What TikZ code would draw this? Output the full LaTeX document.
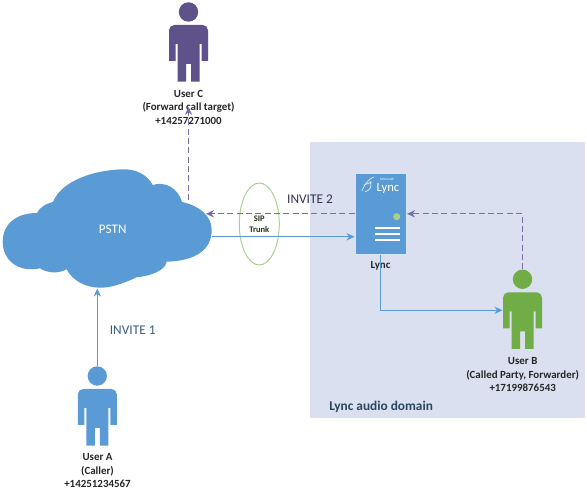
\documentclass[tikz,border=0pt]{standalone}
\usepackage{fontspec}
\setmainfont{Carlito}
\usepackage{xcolor}
\usetikzlibrary{arrows.meta}
\definecolor{lyncblue}{HTML}{5B9BD5}
\definecolor{domainblue}{HTML}{DAE0EF}
\definecolor{purpleC}{HTML}{5F5189}
\definecolor{dashpurple}{HTML}{7A6DA3}
\definecolor{greenB}{HTML}{70AD47}
\definecolor{greenL}{HTML}{A9D18E}
\tikzset{
  solidarrow/.style={line width=0.75pt, lyncblue, -{Stealth[length=6pt,width=5.5pt]}},
  dasharrow/.style={line width=1pt, dashpurple, dash pattern=on 4.5pt off 2.5pt, -{Stealth[length=6pt,width=5.5pt]}},
  userlabel/.style={font=\bfseries\fontsize{8.2}{10.1}\selectfont, align=center, text=black!85, inner sep=0pt},
  person/.pic={
    \fill (0,-13) circle (9.7);
    \coordinate (-head) at (0,-23);
    \coordinate (-west) at (-20,18);
    \fill (-19.5,36) [rounded corners=4pt] -- (-19.5,0) -- (19.5,0) [sharp corners] -- (19.5,36) -- (13,36) -- (13,19) -- (11,19) -- (11,56.7) -- (2.5,56.7) -- (2.5,39) -- (-2.5,39) -- (-2.5,56.7) -- (-11,56.7) -- (-11,19) -- (-13,19) -- (-13,36) -- cycle;
  }
}
\begin{document}
\begin{tikzpicture}[x=0.75pt, y=-0.75pt]
\useasboundingbox (0,0) rectangle (587,498);
% audio domain
\fill[domainblue] (310,142) rectangle (585,417.7);
\node[font=\bfseries\fontsize{10}{12}\selectfont, text=lyncblue!45!black, anchor=west, inner sep=0pt] (domainlabel) at (329,406.7) {Lync audio domain};
% cloud
\fill[lyncblue] (2.7,241.7) .. controls (2.7,225) and (15,213) .. (37,213)
  .. controls (41,206) and (46,204) .. (53,202)
  .. controls (62,180) and (95,170) .. (123,169.3)
  .. controls (135,169) and (147,174) .. (152.7,185)
  .. controls (165,181) and (178,188) .. (182,202)
  .. controls (200,206) and (211.7,216) .. (211.7,230)
  .. controls (211.7,250) and (195,261) .. (166.7,261.7)
  .. controls (165,271) and (150,276) .. (136.7,277.3)
  .. controls (120,285) and (110,287.7) .. (100,287.7)
  .. controls (85,287.7) and (72,280) .. (66.7,269.3)
  .. controls (58,274) and (47,273) .. (40,268.3)
  .. controls (18,273) and (2.7,260) .. (2.7,241.7) -- cycle;
\node[font=\fontsize{9.8}{12}\selectfont, text=white, inner sep=0pt] (pstn) at (112.7,229.3) {PSTN};
\coordinate (pstnS) at (97.3,288.5);
\coordinate (pstnE) at (211.7,236.8);
\coordinate (pstnN) at (188.5,200);
\coordinate (pstnNE) at (206,213.8);
% users
\pic[fill=lyncblue] (userA) at (97.3,389) {person};
\pic[fill=purpleC] (userC) at (188.5,25) {person};
\pic[fill=greenB] (userB) at (522.5,292.3) {person};
\node[userlabel] (userAlabel) at (97.5,470.7) {User A\\(Caller)\\+14251234567};
\node[userlabel] (userClabel) at (188.5,107) {User C\\(Forward call target)\\+14257271000};
\node[userlabel] (userBlabel) at (522.7,374.7) {User B\\(Called Party, Forwarder)\\+17199876543};
% lync server
\node[draw=white!75!lyncblue, fill=lyncblue, line width=0.6pt, minimum width=38.8pt, minimum height=60.7pt, inner sep=0pt] (lync) at (380.8,213.8) {};
\node[font=\fontsize{9.5}{10}\selectfont, text=white, inner sep=0pt] (lynclogo) at (388,188) {Lync};
\node[font=\fontsize{2.6}{3}\selectfont, text=white, inner sep=0pt] (lyncms) at (387,179) {Microsoft};
\draw[white!80!lyncblue, line width=0.5pt] (362,191) .. controls (365,183) and (370,178) .. (374,177) (364,185) -- (372,182) (365,192) .. controls (371,190) and (372,186) .. (370,181);
\fill[greenL] (396.7,216.7) circle (3.5);
\foreach \y in {227.7,234,240} \draw[white, line width=1.5pt] (374.5,\y) -- (400,\y);
\node[userlabel] (lynclabel) at (380.5,265.5) {Lync};
% trunk
\draw[greenL, line width=0.75pt] (259.3,224) ellipse (20 and 41);
\node[font=\bfseries\fontsize{6.4}{8.6}\selectfont, align=center, text=black!70!greenB, inner sep=0pt] (trunk) at (259.3,224) {SIP\\Trunk};
% connectors
\draw[solidarrow] (userA-head) -- (pstnS);
\draw[solidarrow] (pstnE) -- (pstnE -| lync.west);
\draw[solidarrow] (lync.south) |- (userB-west);
\draw[dasharrow] (lync.west |- pstnNE) -- (pstnNE);
\draw[dasharrow] (pstnN) -- (userClabel.center);
\draw[dasharrow] (userB-head) |- (lync.east);
% invite labels
\node[font=\fontsize{10}{12}\selectfont, text=lyncblue!60!black, inner sep=0pt] (invite1) at (132.7,330.7) {INVITE 1};
\node[font=\fontsize{10}{12}\selectfont, text=purpleC!60!black, inner sep=0pt] (invite2) at (310,199) {INVITE 2};
\end{tikzpicture}
\end{document}
